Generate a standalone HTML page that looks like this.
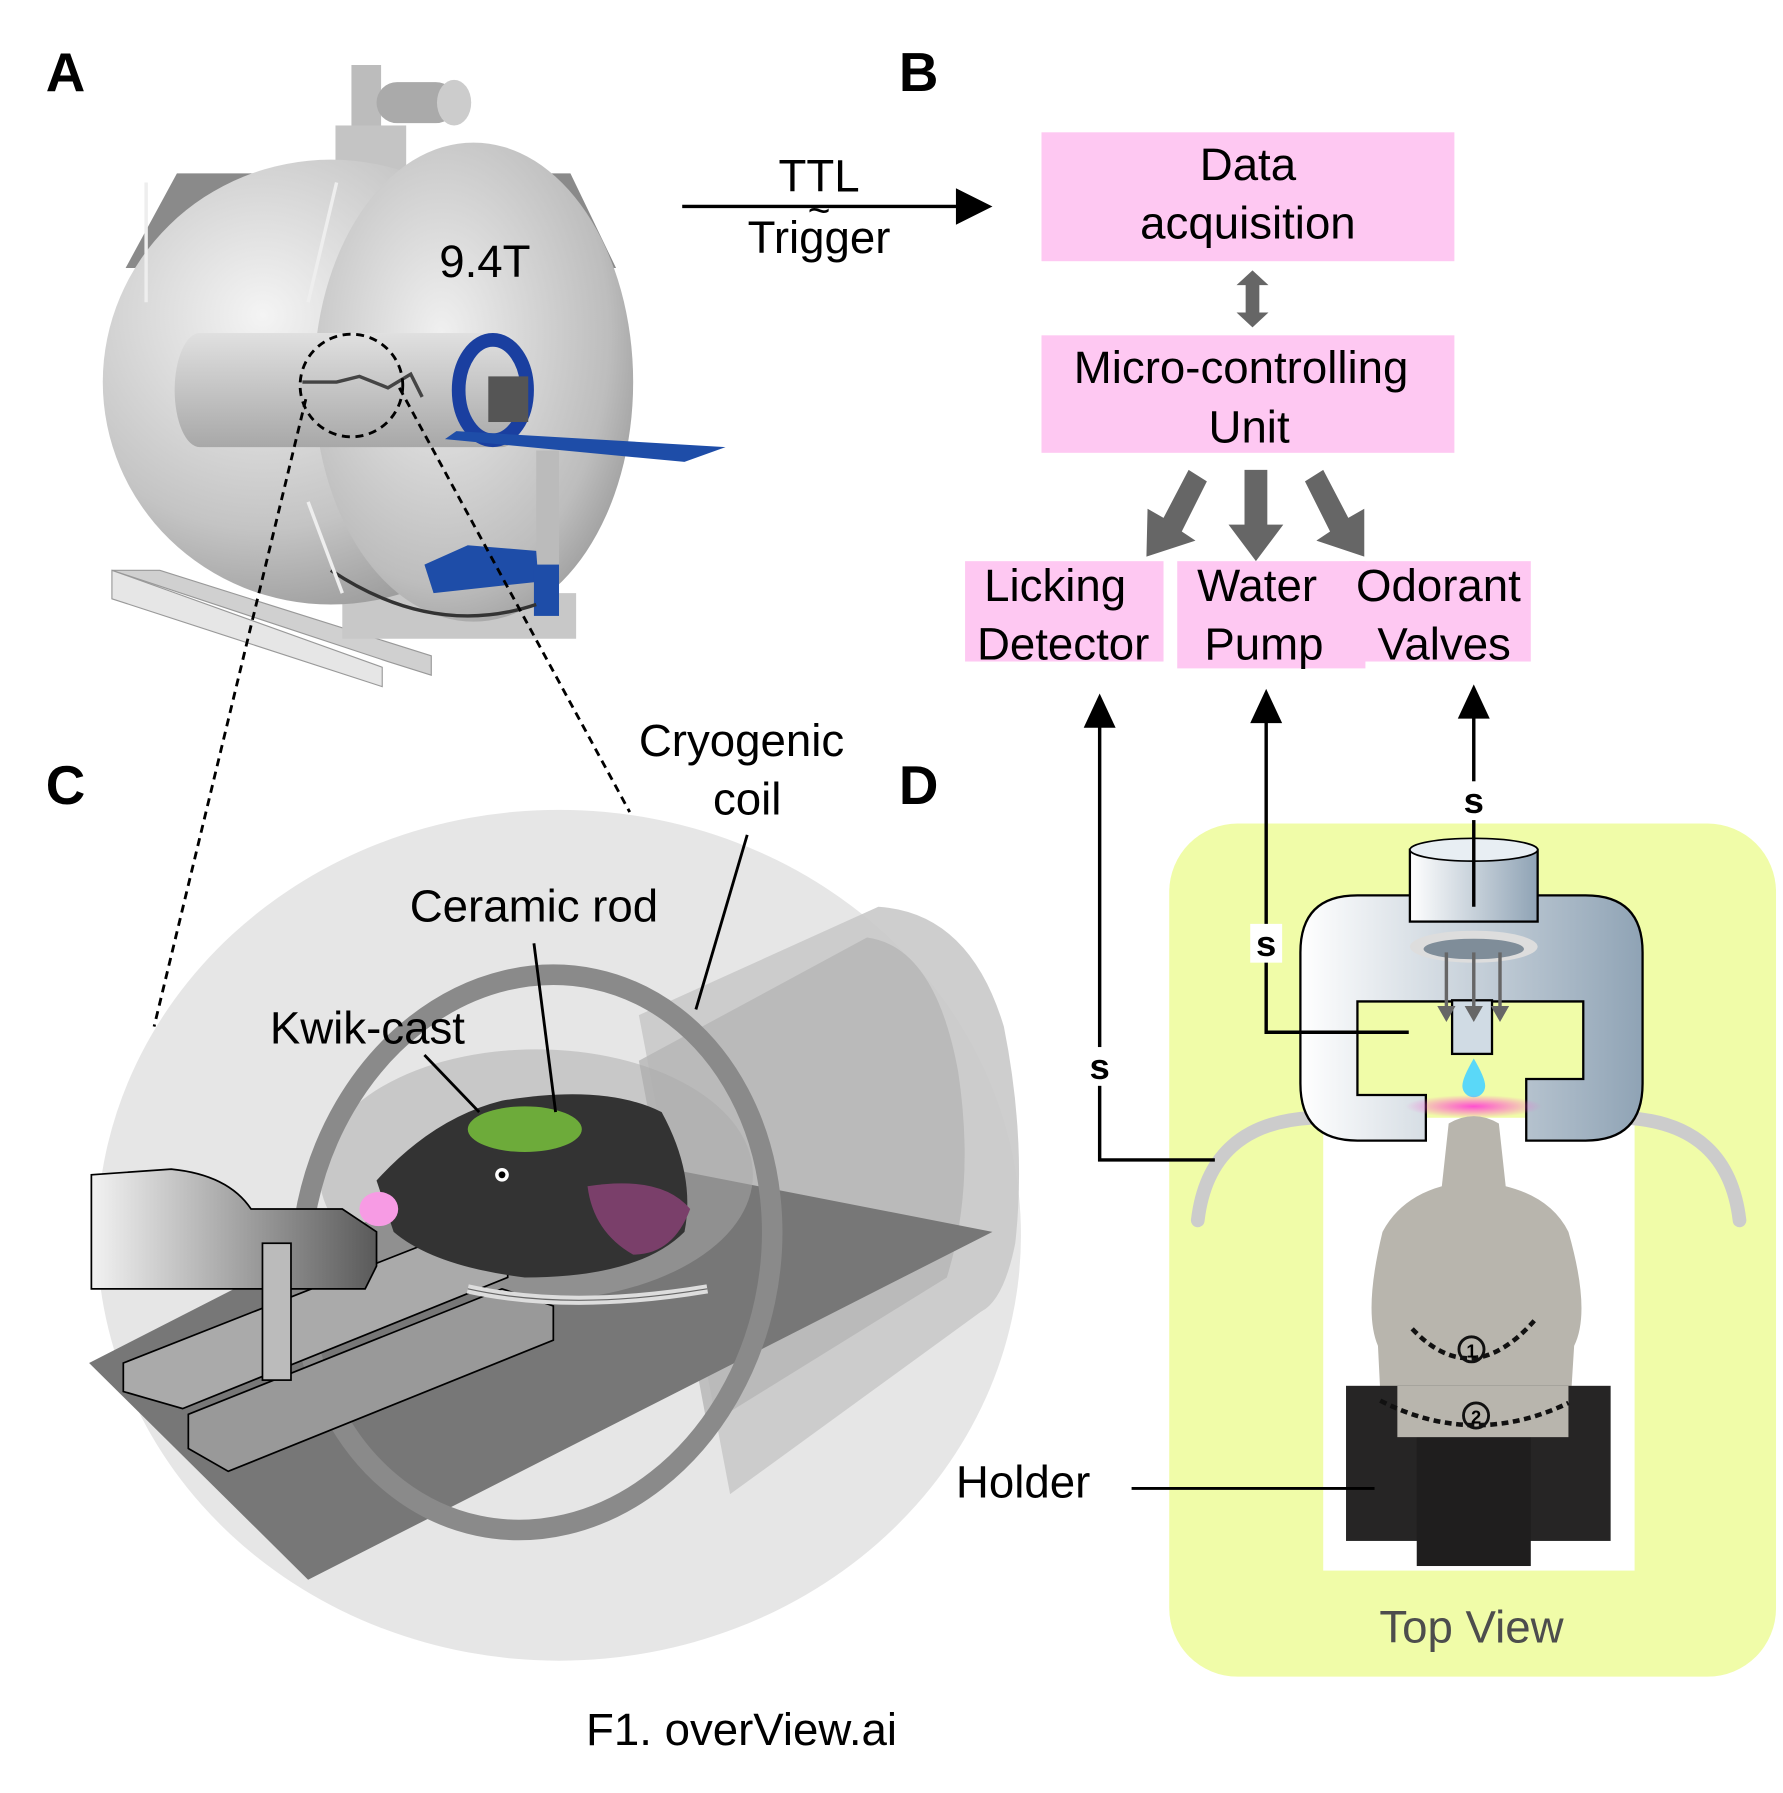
<!DOCTYPE html>
<html><head><meta charset="utf-8"><style>
html,body{margin:0;padding:0;background:#fff;width:1783px;height:1793px;overflow:hidden}
svg{display:block}
text{font-family:"Liberation Sans",Arial,sans-serif}
</style></head><body>
<svg width="1783" height="1793" viewBox="0 0 1563 1572" xmlns="http://www.w3.org/2000/svg">
<defs>
<radialGradient id="sph" cx="0.35" cy="0.35" r="0.8"><stop offset="0" stop-color="#f4f4f4"/><stop offset="0.6" stop-color="#c4c4c4"/><stop offset="1" stop-color="#8a8a8a"/></radialGradient>
<radialGradient id="sph2" cx="0.4" cy="0.4" r="0.75"><stop offset="0" stop-color="#f0f0f0"/><stop offset="0.7" stop-color="#bdbdbd"/><stop offset="1" stop-color="#8c8c8c"/></radialGradient>
<linearGradient id="bore" x1="0" y1="0" x2="0" y2="1"><stop offset="0" stop-color="#e0e0e0"/><stop offset="1" stop-color="#a8a8a8"/></linearGradient>
<linearGradient id="hg" x1="0" y1="0" x2="1" y2="0"><stop offset="0" stop-color="#fff"/><stop offset="1" stop-color="#8fa3b5"/></linearGradient>
<linearGradient id="cyl" x1="0" y1="0" x2="1" y2="0"><stop offset="0" stop-color="#f2f2f2"/><stop offset="1" stop-color="#5a5a5a"/></linearGradient>
<radialGradient id="pink" cx="0.5" cy="0.5" r="0.5"><stop offset="0" stop-color="#ff4fd0"/><stop offset="1" stop-color="#ff4fd0" stop-opacity="0"/></radialGradient>
</defs>

<text x="40" y="80" font-size="48" font-weight="bold">A</text>
<text x="788" y="80" font-size="48" font-weight="bold">B</text>
<text x="40" y="705" font-size="48" font-weight="bold">C</text>
<text x="788" y="705" font-size="48" font-weight="bold">D</text>

<!-- Panel A -->
<polygon points="98,500 340,580 378,592 378,575 140,500" fill="#d0d0d0" stroke="#999"/>
<polygon points="98,500 98,525 335,602 335,585" fill="#e6e6e6" stroke="#999"/>
<polygon points="300,520 505,520 505,560 300,560" fill="#c8c8c8"/>
<rect x="308" y="57" width="26" height="70" fill="#bcbcbc"/>
<rect x="330" y="72" width="70" height="36" rx="18" fill="#aaa"/>
<ellipse cx="398" cy="90" rx="15" ry="20" fill="#ccc"/>
<rect x="294" y="110" width="62" height="40" fill="#c4c4c4"/>
<polygon points="155,152 500,152 540,235 110,235" fill="#8a8a8a"/>
<ellipse cx="290" cy="335" rx="200" ry="195" fill="url(#sph)"/>
<ellipse cx="415" cy="335" rx="140" ry="210" fill="url(#sph2)"/>
<path d="M175,292 L440,292 A22,50 0 0 1 440,392 L175,392 A22,50 0 0 1 175,292z" fill="url(#bore)"/>
<text x="425" y="243" font-size="40" text-anchor="middle">9.4T</text>
<ellipse cx="432" cy="342" rx="30" ry="44" fill="none" stroke="#1a3fa0" stroke-width="12"/>
<rect x="428" y="330" width="35" height="40" fill="#555"/>
<polygon points="400,378 636,392 600,405 390,385" fill="#1e4da8"/>
<rect x="470" y="395" width="20" height="110" fill="#bbb"/>
<polygon points="372,495 410,478 470,483 472,510 380,520" fill="#1e4da8"/>
<rect x="468" y="495" width="22" height="45" fill="#1e4da8"/>
<path d="M290,500 Q380,560 470,530" fill="none" stroke="#333" stroke-width="3"/>
<line x1="128" y1="160" x2="128" y2="265" stroke="#eee" stroke-width="3"/>
<line x1="295" y1="160" x2="270" y2="265" stroke="#eee" stroke-width="3"/>
<line x1="270" y1="440" x2="300" y2="520" stroke="#eee" stroke-width="3"/>
<path d="M265,335 l30,0 l20,-5 l25,10 l20,-12 l10,20" fill="none" stroke="#444" stroke-width="3"/>
<circle cx="308" cy="338" r="45" fill="none" stroke="#000" stroke-width="2.5" stroke-dasharray="7,5"/>
<line x1="268" y1="350" x2="135" y2="900" stroke="#000" stroke-width="2.5" stroke-dasharray="7,5"/>
<line x1="350" y1="340" x2="552" y2="712" stroke="#000" stroke-width="2.5" stroke-dasharray="7,5"/>

<!-- TTL -->
<line x1="598" y1="181" x2="845" y2="181" stroke="#000" stroke-width="3"/>
<polygon points="838,165 870,181 838,197" fill="#000"/>
<text x="718" y="168" font-size="40" text-anchor="middle">TTL</text>
<text x="718" y="222" font-size="40" text-anchor="middle">Trigger</text>
<text x="718" y="196" font-size="34" text-anchor="middle">~</text>

<!-- Panel B -->
<rect x="913" y="116" width="362" height="113" fill="#fec8f2"/>
<text x="1094" y="158" font-size="40" text-anchor="middle">Data</text>
<text x="1094" y="209" font-size="40" text-anchor="middle">acquisition</text>
<polygon points="1098,237 1112,250 1104,250 1104,274 1112,274 1098,287 1084,274 1092,274 1092,250 1084,250" fill="#666"/>
<rect x="913" y="294" width="362" height="103" fill="#fec8f2"/>
<text x="1088" y="336" font-size="40" text-anchor="middle">Micro-controlling</text>
<text x="1095" y="388" font-size="40" text-anchor="middle">Unit</text>
<polygon points="1091,412 1111,412 1111,460 1125,460 1101,492 1077,460 1091,460" fill="#666"/>
<polygon points="1042,412 1058,422 1036,466 1048,474 1005,488 1006,446 1020,454" fill="#666"/>
<polygon points="1160,412 1144,422 1166,466 1154,474 1196,488 1196,446 1182,454" fill="#666"/>
<rect x="846" y="492" width="174" height="88" fill="#fec8f2"/>
<text x="925" y="527" font-size="40" text-anchor="middle">Licking</text>
<text x="932" y="578" font-size="40" text-anchor="middle">Detector</text>
<rect x="1032" y="492" width="165" height="94" fill="#fec8f2"/>
<text x="1102" y="527" font-size="40" text-anchor="middle">Water</text>
<text x="1108" y="578" font-size="40" text-anchor="middle">Pump</text>
<rect x="1183" y="492" width="159" height="88" fill="#fec8f2"/>
<text x="1261" y="527" font-size="40" text-anchor="middle">Odorant</text>
<text x="1266" y="578" font-size="40" text-anchor="middle">Valves</text>

<!-- Panel D -->
<rect x="1025" y="722" width="532" height="748" rx="60" fill="#f0fca8"/>
<rect x="1160" y="980" width="273" height="397" fill="#fff"/>
<path d="M1050,1070 Q1060,985 1150,980" fill="none" stroke="#ccc" stroke-width="12" stroke-linecap="round"/>
<path d="M1525,1070 Q1515,985 1425,980" fill="none" stroke="#ccc" stroke-width="12" stroke-linecap="round"/>
<path d="M1215,785 L1190,785 Q1140,785 1140,835 L1140,950 Q1140,1000 1190,1000 L1250,1000 L1250,960 L1190,960 L1190,878 L1388,878 L1388,946 L1338,946 L1338,1000 L1390,1000 Q1440,1000 1440,950 L1440,835 Q1440,785 1390,785 Z" fill="url(#hg)" stroke="#000" stroke-width="2"/>
<rect x="1236" y="745" width="112" height="63" fill="url(#hg)" stroke="#000" stroke-width="2"/>
<ellipse cx="1292" cy="745" rx="56" ry="10" fill="#e8eef3" stroke="#000" stroke-width="1.5"/>
<ellipse cx="1292" cy="830" rx="56" ry="14" fill="#ddd"/>
<ellipse cx="1292" cy="832" rx="44" ry="9" fill="#7f8d99"/>
<rect x="1273" y="877" width="35" height="47" fill="#d0dbe4" stroke="#000" stroke-width="2"/>
<g stroke="#666" stroke-width="3" fill="#666">
<line x1="1268" y1="835" x2="1268" y2="885"/><polygon points="1260,882 1276,882 1268,896" stroke="none"/>
<line x1="1292" y1="835" x2="1292" y2="885"/><polygon points="1284,882 1300,882 1292,896" stroke="none"/>
<line x1="1315" y1="835" x2="1315" y2="885"/><polygon points="1307,882 1323,882 1315,896" stroke="none"/>
</g>
<path d="M1292,928 Q1302,945 1302,952 A10,10 0 0 1 1282,952 Q1282,945 1292,928z" fill="#5ad8f8"/>
<ellipse cx="1292" cy="970" rx="60" ry="10" fill="url(#pink)"/>
<path d="M1270,985 Q1292,972 1314,985 L1320,1040 Q1360,1050 1375,1080 Q1395,1150 1380,1180 L1375,1260 Q1340,1285 1292,1285 Q1244,1285 1212,1260 L1208,1180 Q1195,1150 1212,1080 Q1228,1050 1264,1040 Z" fill="#b8b5ad"/>
<rect x="1180" y="1215" width="232" height="136" fill="#262525"/>
<rect x="1242" y="1260" width="100" height="113" fill="#1f1e1e"/>
<rect x="1225" y="1215" width="150" height="45" fill="#b8b5ad"/>
<path d="M1238,1165 Q1290,1220 1345,1158" fill="none" stroke="#111" stroke-width="4" stroke-dasharray="6,4"/>
<path d="M1210,1228 Q1292,1270 1375,1230" fill="none" stroke="#111" stroke-width="4" stroke-dasharray="6,4"/>
<circle cx="1290" cy="1183" r="11" fill="none" stroke="#111" stroke-width="2.5"/><text x="1290" y="1190" font-size="16" font-weight="bold" text-anchor="middle">1</text>
<circle cx="1294" cy="1241" r="11" fill="none" stroke="#111" stroke-width="2.5"/><text x="1294" y="1248" font-size="16" font-weight="bold" text-anchor="middle">2</text>
<text x="1290" y="1440" font-size="40" text-anchor="middle" fill="#4d4d4d">Top View</text>
<text x="838" y="1313" font-size="40">Holder</text>
<line x1="992" y1="1305" x2="1205" y2="1305" stroke="#000" stroke-width="2.5"/>
<g stroke="#000" stroke-width="3" fill="none">
<polyline points="1065,1017 964,1017 964,635"/>
<polyline points="1235,905 1110,905 1110,630"/>
<line x1="1292" y1="795" x2="1292" y2="625"/>
</g>
<polygon points="950,638 964,608 978,638" fill="#000"/>
<polygon points="1096,634 1110,604 1124,634" fill="#000"/>
<polygon points="1278,630 1292,600 1306,630" fill="#000"/>
<g font-size="32" font-weight="bold" text-anchor="middle">
<rect x="950" y="918" width="28" height="34" fill="#fff"/><text x="964" y="946">s</text>
<rect x="1096" y="810" width="28" height="34" fill="#fff"/><text x="1110" y="838">s</text>
<rect x="1278" y="685" width="28" height="34" fill="#fff"/><text x="1292" y="713">s</text>
</g>

<!-- Panel C -->
<ellipse cx="490" cy="1083" rx="405" ry="373" fill="#e6e6e6"/>
<path d="M560,890 L770,795 Q850,800 880,900 Q900,1000 890,1090 Q880,1140 860,1150 L640,1310 Z" fill="#c9c9c9" opacity="0.9"/>
<path d="M560,930 L760,822 Q820,830 840,940 Q855,1040 830,1120 L620,1250 Z" fill="#b5b5b5" opacity="0.8"/>
<polygon points="78,1195 460,1000 870,1080 270,1385" fill="#777"/>
<ellipse cx="470" cy="1030" rx="190" ry="110" fill="#a9a9a9" opacity="0.5"/>
<ellipse cx="470" cy="1098" rx="205" ry="245" transform="rotate(12 470 1098)" fill="none" stroke="#8a8a8a" stroke-width="18"/>
<polygon points="108,1195 400,1080 445,1090 445,1120 160,1235 108,1220" fill="#aaa" stroke="#000" stroke-width="1.5"/>
<polygon points="165,1240 440,1130 485,1145 485,1175 200,1290 165,1270" fill="#999" stroke="#000" stroke-width="1.5"/>
<path d="M330,1035 Q380,980 440,965 Q530,950 580,975 Q610,1030 600,1080 Q560,1120 460,1120 Q380,1110 345,1080 Z" fill="#333"/>
<ellipse cx="460" cy="990" rx="50" ry="20" fill="#6dab3a"/>
<path d="M515,1040 Q580,1030 605,1060 Q590,1100 555,1100 Q520,1080 515,1040z" fill="#7a3f6a"/>
<ellipse cx="332" cy="1060" rx="17" ry="15" fill="#f79be4"/>
<circle cx="440" cy="1030" r="6" fill="#fff"/><circle cx="440" cy="1030" r="3" fill="#000"/>
<path d="M320,1130 L80,1130 L80,1030 L150,1025 Q200,1030 220,1060 L300,1060 L330,1080 L330,1110z" fill="url(#cyl)" stroke="#000" stroke-width="1.5"/>
<rect x="230" y="1090" width="25" height="120" fill="#bbb" stroke="#000" stroke-width="1.5"/>
<path d="M410,1130 Q500,1150 620,1130" fill="none" stroke="#ddd" stroke-width="8"/>
<path d="M410,1130 Q500,1150 620,1130" fill="none" stroke="#666" stroke-width="1"/>
<text x="650" y="663" font-size="40" text-anchor="middle">Cryogenic</text>
<text x="655" y="714" font-size="40" text-anchor="middle">coil</text>
<line x1="655" y1="732" x2="610" y2="885" stroke="#000" stroke-width="2.5"/>
<text x="468" y="808" font-size="40" text-anchor="middle">Ceramic rod</text>
<line x1="468" y1="827" x2="487" y2="975" stroke="#000" stroke-width="2.5"/>
<text x="322" y="915" font-size="40" text-anchor="middle">Kwik-cast</text>
<line x1="372" y1="925" x2="420" y2="975" stroke="#000" stroke-width="2.5"/>

<text x="650" y="1530" font-size="40" text-anchor="middle">F1. overView.ai</text>
</svg>
</body></html>
